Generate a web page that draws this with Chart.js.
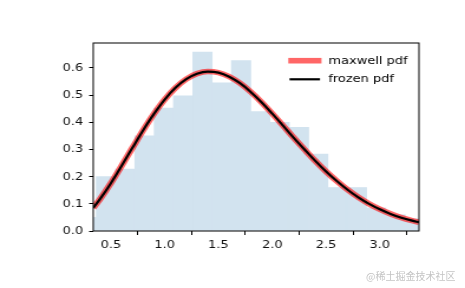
<!DOCTYPE html>
<html><head><meta charset="utf-8">
<script src="https://cdn.jsdelivr.net/npm/chart.js@4/dist/chart.umd.min.js"></script>
<style>
html,body{margin:0;padding:0;background:#fff;overflow:hidden;width:465px;height:288px;}
#wrap{position:absolute;left:0;top:0;width:394px;height:288px;transform:scaleX(1.180203);transform-origin:0 0;}
#mark{position:absolute;left:366px;top:268px;font:10px "Noto Sans CJK SC";color:#c4c4c4;white-space:nowrap;}
</style></head><body>
<div id="wrap"><canvas id="c" width="394" height="288"></canvas></div>
<div id="mark">@稀土掘金技术社区</div>
<script>
// Histogram (density)
const binEdges = [0.1844, 0.3639, 0.5434, 0.7229, 0.9024, 1.0819, 1.2614, 1.4409, 1.6204, 1.7999,
                  1.9794, 2.1589, 2.3384, 2.5179, 2.6974, 2.8769, 3.0564, 3.2359, 3.4154];
const binDensity = [0.050, 0.200, 0.228, 0.350, 0.452, 0.498, 0.659, 0.545, 0.627, 0.440,
                    0.400, 0.382, 0.283, 0.160, 0.160, 0.085, 0.060, 0.045];
// Curves
const curveX = [0.336, 0.4, 0.5, 0.6, 0.7, 0.8, 0.9, 1.0, 1.1, 1.2, 1.3, 1.4, 1.5, 1.6, 1.7, 1.8, 1.9,
                2.0, 2.1, 2.2, 2.3, 2.4, 2.5, 2.6, 2.7, 2.8, 2.9, 3.0, 3.1, 3.2, 3.3, 3.364];
const maxwellPdf = [0.085, 0.118, 0.176, 0.240, 0.306, 0.371, 0.431, 0.484, 0.527, 0.559, 0.579, 0.587,
                    0.583, 0.568, 0.544, 0.512, 0.474, 0.432, 0.388, 0.343, 0.300, 0.258, 0.219, 0.184,
                    0.152, 0.124, 0.100, 0.080, 0.063, 0.049, 0.038, 0.032];
const frozenPdf = [0.085, 0.118, 0.176, 0.240, 0.306, 0.371, 0.431, 0.484, 0.527, 0.559, 0.579, 0.587,
                   0.583, 0.568, 0.544, 0.512, 0.474, 0.432, 0.388, 0.343, 0.300, 0.258, 0.219, 0.184,
                   0.152, 0.124, 0.100, 0.080, 0.063, 0.049, 0.038, 0.032];
const xTicks = [0.5, 1.0, 1.5, 2.0, 2.5, 3.0];
const yTicks = [0.0, 0.1, 0.2, 0.3, 0.4, 0.5, 0.6];
const xRange = [0.336, 3.364];
const yRange = [0, 0.692];
const seriesNames = ['maxwell pdf', 'frozen pdf'];

const S = 1.180203; // horizontal stretch of the canvas
const FONT = {family: '"DejaVu Sans", sans-serif', size: 11};

const histData = binDensity.map((v, i) => ({x: (binEdges[i] + binEdges[i + 1]) / 2, y: v}));
const toPts = ys => curveX.map((x, i) => ({x: x, y: ys[i]}));

const framePlugin = {
  id: 'frame',
  afterDatasetsDraw(chart) {
    const {ctx, chartArea: a} = chart;
    ctx.save();
    ctx.strokeStyle = '#000';
    ctx.lineWidth = 1;
    ctx.strokeRect(a.left, a.top, a.right - a.left, a.bottom - a.top);
    ctx.restore();
  }
};

const legendPlugin = {
  id: 'mplLegend',
  afterDraw(chart) {
    const ctx = chart.ctx;
    const ds = chart.data.datasets;
    const rows = [{d: ds[0], y: 60.7, x0: 288.3, x1: 321.5}, {d: ds[1], y: 79.3, x0: 289.5, x1: 320.0}];
    ctx.save();
    rows.forEach(r => {
      ctx.beginPath();
      ctx.strokeStyle = r.d.borderColor;
      ctx.lineWidth = r.d.borderWidth;
      ctx.lineCap = 'butt';
      ctx.moveTo(r.x0 / S, r.y);
      ctx.lineTo(r.x1 / S, r.y);
      ctx.stroke();
      ctx.fillStyle = '#000';
      ctx.font = '11px "DejaVu Sans", sans-serif';
      ctx.textBaseline = 'middle';
      ctx.textAlign = 'left';
      ctx.fillText(r.d.label, 328.3 / S, r.y);
    });
    ctx.restore();
  }
};

new Chart(document.getElementById('c'), {
  type: 'bar',
  data: {
    datasets: [
      {type: 'line', label: seriesNames[0], data: toPts(maxwellPdf), borderColor: 'rgba(255,0,0,0.6)',
       borderWidth: 5.6, pointRadius: 0, fill: false, cubicInterpolationMode: 'monotone', clip: 0, order: 2},
      {type: 'line', label: seriesNames[1], data: toPts(frozenPdf), borderColor: '#000',
       borderWidth: 2.2, pointRadius: 0, fill: false, cubicInterpolationMode: 'monotone', clip: 0, order: 1},
      {type: 'bar', label: 'hist', data: histData, backgroundColor: 'rgb(210,227,239)', borderWidth: 0,
       barPercentage: 1, categoryPercentage: 1, clip: 0, order: 3}
    ]
  },
  options: {
    responsive: false,
    devicePixelRatio: 1,
    animation: false,
    events: [],
    layout: {padding: {top: 43, right: 39, left: 0, bottom: 0}},
    plugins: {legend: {display: false}, tooltip: {enabled: false}},
    scales: {
      x: {
        type: 'linear', min: xRange[0], max: xRange[1], offset: false,
        afterBuildTicks: s => { s.ticks = xTicks.map(v => ({value: v})); },
        afterFit: s => { s.height = 57; },
        grid: {display: true, drawOnChartArea: false, drawTicks: true, tickLength: 4, tickColor: '#000', tickWidth: 1},
        border: {display: false},
        ticks: {color: '#111', font: FONT, padding: 4, maxRotation: 0, autoSkip: false,
                callback: v => Number(v).toFixed(1)}
      },
      y: {
        type: 'linear', min: yRange[0], max: yRange[1],
        afterBuildTicks: s => { s.ticks = yTicks.map(v => ({value: v})); },
        afterFit: s => { s.width = 79; },
        grid: {display: true, drawOnChartArea: false, drawTicks: true, tickLength: 3.5, tickColor: '#000', tickWidth: 1},
        border: {display: false},
        ticks: {color: '#111', font: FONT, padding: 5, autoSkip: false,
                callback: v => Number(v).toFixed(1)}
      }
    }
  },
  plugins: [framePlugin, legendPlugin]
});
</script>
</body></html>
